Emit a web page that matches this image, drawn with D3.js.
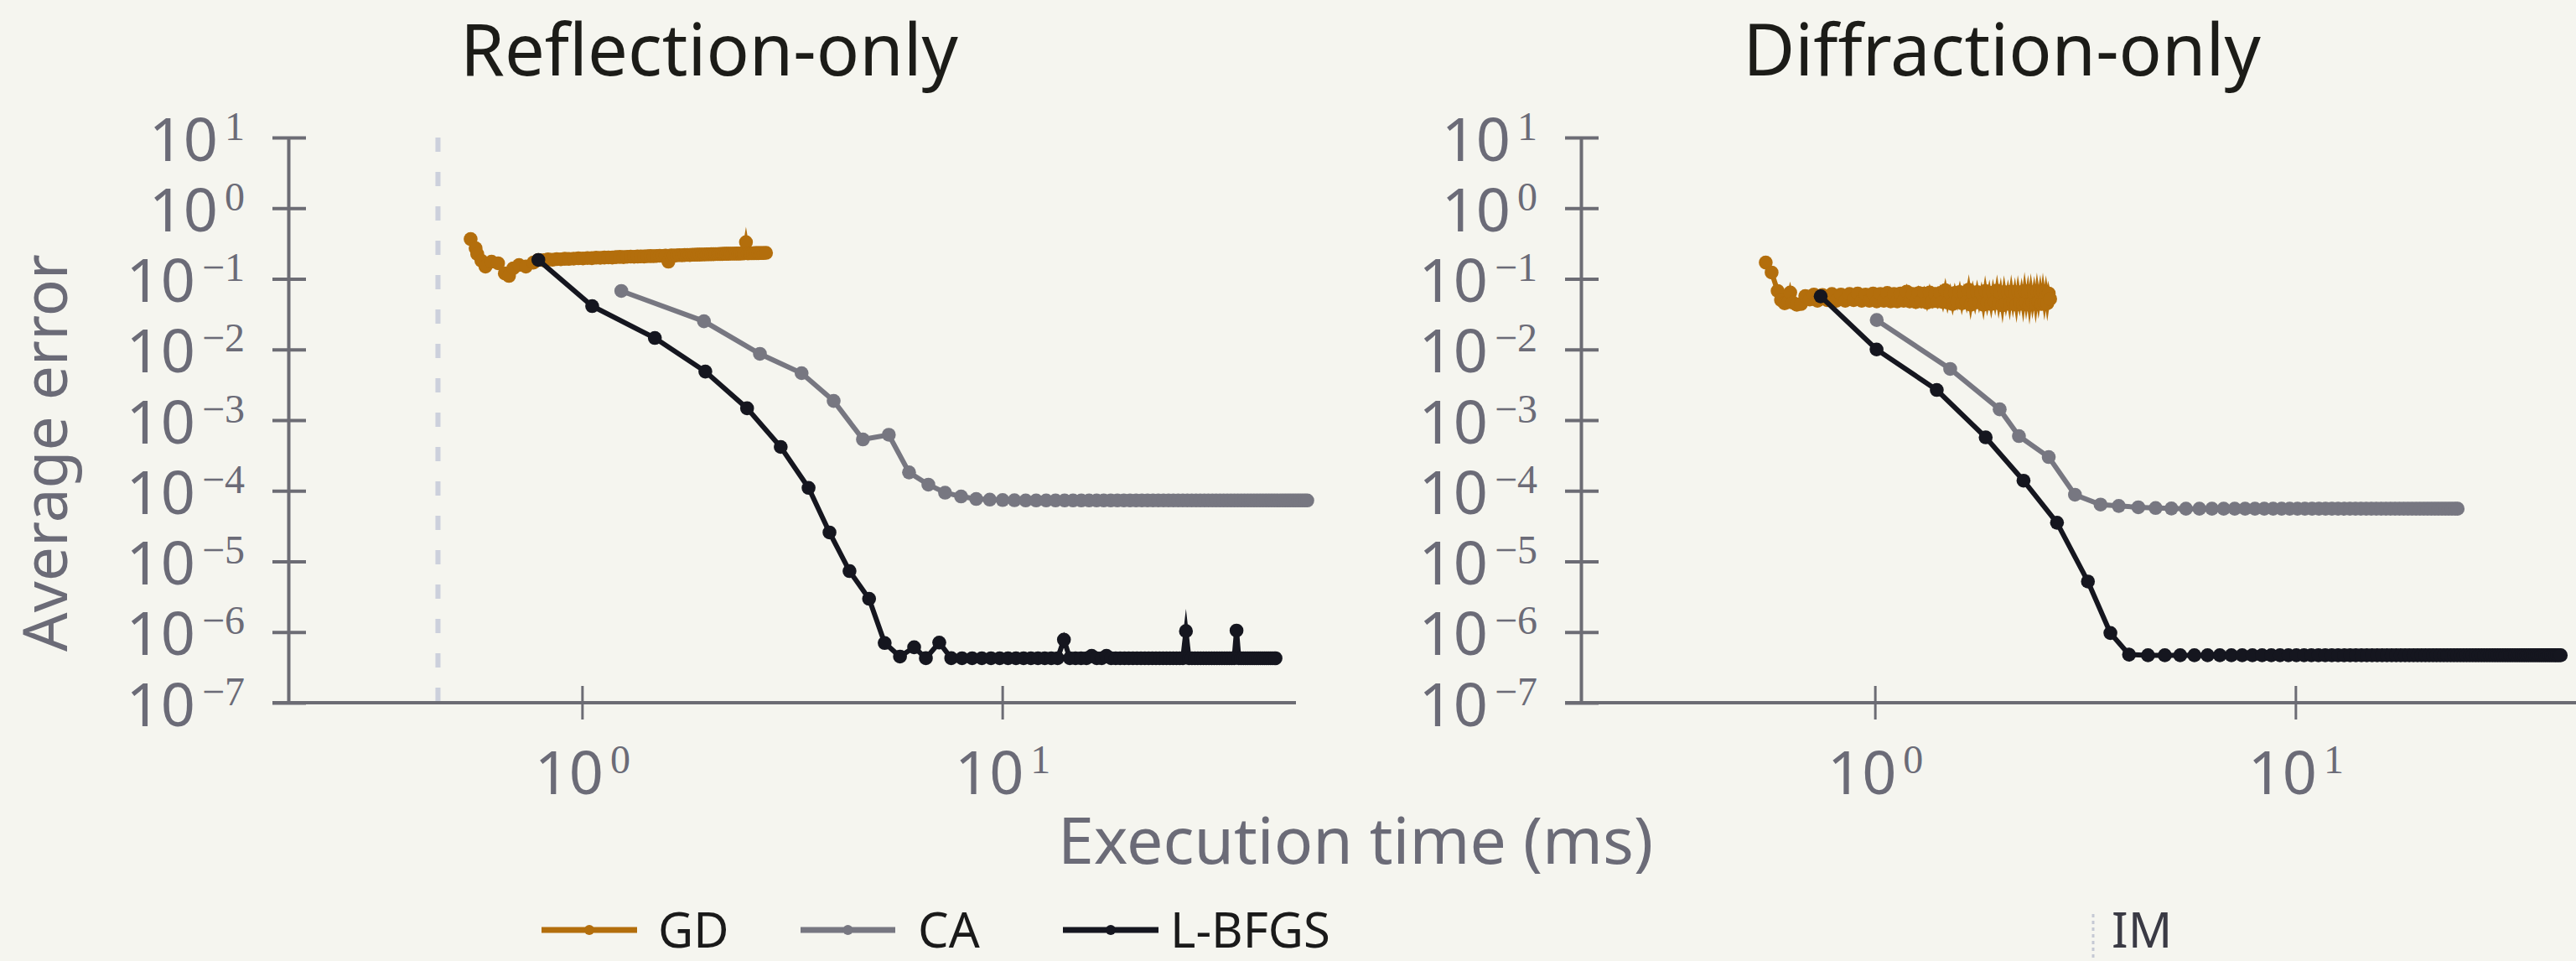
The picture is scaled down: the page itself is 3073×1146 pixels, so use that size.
<!DOCTYPE html>
<html><head><meta charset="utf-8">
<script src="https://cdn.jsdelivr.net/npm/d3@7"></script>
<style>
html,body{margin:0;padding:0;background:#f5f5ef;}
svg{display:block;}
</style></head><body>
<svg id="chart" width="3073" height="1146"></svg>
<script>
// ---------------- DATA ----------------
const panelTitles = ["Reflection-only", "Diffraction-only"];
const seriesNames = ["GD", "CA", "L-BFGS"];
const xTickValues = [1, 10];
const yTickValues = [1e1, 1e0, 1e-1, 1e-2, 1e-3, 1e-4, 1e-5, 1e-6, 1e-7];
const xAxisLabel = "Execution time (ms)";
const yAxisLabel = "Average error";
const imLabel = "IM";
const imTimes = [0.454, null]; // per panel (only visible in Reflection-only)

// Reflection-only : [time ms, average error]
const gdReflection = [
[0.543,0.366],[0.558,0.271],[0.563,0.224],[0.576,0.18],[0.589,0.149],[0.609,0.175],[0.631,0.166],[0.655,0.119],[0.670,0.110],[0.686,0.141],[0.708,0.157],[0.735,0.149],[0.766,0.170],[0.787,0.185],
[0.81,0.183],[0.83,0.188],[0.85,0.186],[0.87,0.190],[0.89,0.189],[0.91,0.192],[0.93,0.191],[0.955,0.193],[0.98,0.195],[1.005,0.194],[1.03,0.197],[1.055,0.196],[1.08,0.199],[1.105,0.198],[1.13,0.200],[1.155,0.201],[1.18,0.200],[1.205,0.203],[1.23,0.204],[1.255,0.203],[1.28,0.205],[1.305,0.206],[1.33,0.205],[1.355,0.207],[1.38,0.208],[1.405,0.207],[1.43,0.209],[1.455,0.210],[1.48,0.209],[1.505,0.211],[1.53,0.212],[1.555,0.211],[1.58,0.213],[1.605,0.175],[1.63,0.214],[1.655,0.213],[1.68,0.215],[1.705,0.216],[1.73,0.215],[1.755,0.217],[1.78,0.218],[1.805,0.217],[1.83,0.219],[1.855,0.219],[1.88,0.220],[1.905,0.220],[1.93,0.221],[1.955,0.221],[1.98,0.222],[2.005,0.222],[2.03,0.223],[2.055,0.223],[2.08,0.224],[2.105,0.224],[2.13,0.225],[2.155,0.225],[2.18,0.226],[2.205,0.226],[2.23,0.226],[2.255,0.227],[2.28,0.227],[2.305,0.227],[2.33,0.228],[2.355,0.228],[2.38,0.228],[2.405,0.229],[2.43,0.229],[2.455,0.33],[2.48,0.229],[2.505,0.230],[2.53,0.230],[2.555,0.230],[2.58,0.231],[2.605,0.231],[2.63,0.231],[2.655,0.232],[2.68,0.232],[2.705,0.232],[2.74,0.233]
];
const caReflection = [
[1.24,0.0673],[1.95,0.0251],[2.65,0.00867],[3.33,0.00462],[3.97,0.00187],[4.66,5.33e-4],[5.37,6.2e-4],[6.0,1.82e-4],[6.67,1.22e-4],[7.31,9.4e-5],[7.98,8.3e-5],[8.67,7.65e-5],
[9.34,7.5e-5],[10.02,7.4e-5],[10.69,7.35e-5],[11.37,7.3e-5],[12.04,7.3e-5],[12.72,7.3e-5],[13.39,7.3e-5],[14.07,7.3e-5],[14.74,7.3e-5],[15.42,7.3e-5],[16.09,7.3e-5],[16.77,7.3e-5],[17.44,7.3e-5],[18.12,7.3e-5],[18.79,7.3e-5],[19.47,7.3e-5],[20.14,7.3e-5],[20.82,7.3e-5],[21.49,7.3e-5],[22.17,7.3e-5],[22.84,7.3e-5],[23.52,7.3e-5],[24.19,7.3e-5],[24.87,7.3e-5],[25.54,7.3e-5],[26.22,7.3e-5],[26.89,7.3e-5],[27.57,7.3e-5],[28.24,7.3e-5],[28.92,7.3e-5],[29.59,7.3e-5],[30.27,7.3e-5],[30.94,7.3e-5],[31.62,7.3e-5],[32.29,7.3e-5],[32.97,7.3e-5],[33.64,7.3e-5],[34.32,7.3e-5],[34.99,7.3e-5],[35.67,7.3e-5],[36.34,7.3e-5],[37.02,7.3e-5],[37.69,7.3e-5],[38.37,7.3e-5],[39.04,7.3e-5],[39.72,7.3e-5],[40.39,7.3e-5],[41.07,7.3e-5],[41.74,7.3e-5],[42.42,7.3e-5],[43.09,7.3e-5],[43.77,7.3e-5],[44.44,7.3e-5],[45.12,7.3e-5],[45.79,7.3e-5],[46.47,7.3e-5],[47.14,7.3e-5],[47.82,7.3e-5],[48.49,7.3e-5],[49.17,7.3e-5],[49.84,7.3e-5],[50.52,7.3e-5],[51.19,7.3e-5],[51.87,7.3e-5],[52.54,7.3e-5],[53.2,7.3e-5]
];
const lbfgsReflection = [
[0.787,0.185],[1.057,0.0411],[1.49,0.01455],[1.965,0.00487],[2.47,0.00147],[2.97,4.17e-4],[3.46,1.1e-4],[3.88,2.57e-5],[4.33,7.3e-6],[4.82,2.96e-6],[5.25,7.0e-7],[5.71,4.5e-7],[6.17,6.1e-7],[6.58,4.27e-7],[7.08,7.1e-7],[7.56,4.27e-7],
[8.02,4.26e-7],[8.48,4.26e-7],[8.94,4.26e-7],[9.40,4.26e-7],[9.86,4.26e-7],[10.32,4.26e-7],[10.78,4.26e-7],[11.24,4.26e-7],[11.70,4.26e-7],[12.16,4.26e-7],[12.62,4.26e-7],[13.08,4.26e-7],[13.54,4.26e-7],[14.02,7.8e-7],[14.48,4.26e-7],[14.94,4.26e-7],[15.40,4.26e-7],[15.86,4.26e-7],[16.32,4.6e-7],[16.78,4.26e-7],[17.24,4.26e-7],[17.70,4.6e-7],[18.16,4.26e-7],[18.62,4.26e-7],[19.08,4.26e-7],[19.54,4.26e-7],[20.0,4.26e-7],[20.46,4.26e-7],[20.92,4.26e-7],[21.38,4.26e-7],[21.84,4.26e-7],[22.30,4.26e-7],[22.76,4.26e-7],[23.22,4.26e-7],[23.68,4.26e-7],[24.14,4.26e-7],[24.60,4.26e-7],[25.06,4.26e-7],[25.52,4.26e-7],[25.98,4.26e-7],[26.44,4.26e-7],[26.90,4.26e-7],[27.36,1.03e-6],[27.82,4.26e-7],[28.28,4.26e-7],[28.74,4.26e-7],[29.20,4.26e-7],[29.66,4.26e-7],[30.12,4.26e-7],[30.58,4.26e-7],[31.04,4.26e-7],[31.50,4.26e-7],[31.96,4.26e-7],[32.42,4.26e-7],[32.88,4.26e-7],[33.34,4.26e-7],[33.80,4.26e-7],[34.26,4.26e-7],[34.72,4.26e-7],[35.18,4.26e-7],[35.64,4.26e-7],[36.10,1.05e-6],[36.56,4.26e-7],[37.02,4.26e-7],[37.48,4.26e-7],[37.94,4.26e-7],[38.40,4.26e-7],[38.86,4.26e-7],[39.32,4.26e-7],[39.78,4.26e-7],[40.24,4.26e-7],[40.70,4.26e-7],[41.16,4.26e-7],[41.62,4.26e-7],[42.08,4.26e-7],[42.54,4.26e-7],[43.00,4.26e-7],[43.46,4.26e-7],[43.92,4.26e-7],[44.38,4.26e-7],[44.7,4.26e-7]
];

// Diffraction-only : [time ms, average error]
const gdDiffraction = [
[0.55,0.170],[0.568,0.123],[0.587,0.0673],[0.598,0.050],[0.61,0.045],[0.622,0.047],[0.629,0.064],[0.638,0.046],[0.652,0.043],[0.667,0.044],[0.683,0.057],[0.70,0.051],[0.716,0.060],
[0.73,0.049],[0.75,0.059],[0.77,0.050],[0.79,0.061],[0.81,0.049],[0.83,0.060],[0.85,0.049],[0.87,0.061],[0.89,0.050],[0.91,0.062],[0.93,0.049],[0.95,0.060],[0.97,0.049],[0.99,0.062],[1.01,0.048],[1.03,0.061],[1.05,0.049],[1.07,0.063],[1.09,0.048],[1.11,0.061],[1.13,0.048],[1.15,0.062],[1.17,0.049],[1.19,0.066],[1.21,0.048],[1.23,0.061],[1.25,0.047],[1.27,0.063],[1.29,0.048],[1.31,0.062],[1.33,0.046],[1.35,0.064],[1.37,0.048],[1.39,0.061],[1.41,0.048],[1.43,0.063],[1.45,0.047],[1.47,0.069],[1.49,0.046],[1.51,0.062],[1.53,0.044],[1.55,0.063],[1.57,0.048],[1.59,0.065],[1.61,0.045],[1.63,0.062],[1.65,0.047],[1.67,0.070],[1.69,0.043],[1.71,0.063],[1.73,0.046],[1.75,0.065],[1.77,0.047],[1.79,0.062],[1.81,0.043],[1.83,0.067],[1.85,0.046],[1.87,0.063],[1.89,0.044],[1.91,0.064],[1.93,0.047],[1.95,0.068],[1.97,0.045],[1.99,0.063],[2.01,0.042],[2.03,0.065],[2.05,0.046],[2.07,0.062],[2.09,0.044],[2.11,0.066],[2.13,0.046],[2.15,0.063],[2.17,0.043],[2.19,0.065],[2.21,0.047],[2.23,0.063],[2.25,0.044],[2.27,0.067],[2.29,0.046],[2.31,0.064],[2.33,0.043],[2.35,0.065],[2.37,0.046],[2.39,0.063],[2.41,0.044],[2.43,0.066],[2.45,0.047],[2.47,0.064],[2.49,0.044],[2.51,0.065],[2.53,0.046],[2.55,0.063],[2.57,0.045],[2.59,0.062],[2.61,0.052]
];
const caDiffraction = [
[1.01,0.0261],[1.51,0.0053],[1.98,0.00142],[2.2,5.94e-4],[2.59,3.0e-4],[2.99,8.8e-5],[3.44,6.38e-5],[3.80,6.1e-5],[4.23,5.83e-5],
[4.65,5.7e-5],[5.07,5.62e-5],[5.49,5.57e-5],[5.91,5.57e-5],[6.33,5.57e-5],[6.75,5.57e-5],[7.17,5.57e-5],[7.59,5.57e-5],[8.01,5.57e-5],[8.43,5.57e-5],[8.85,5.57e-5],[9.27,5.57e-5],[9.69,5.57e-5],[10.11,5.57e-5],[10.53,5.57e-5],[10.95,5.57e-5],[11.37,5.57e-5],[11.79,5.57e-5],[12.21,5.57e-5],[12.63,5.57e-5],[13.05,5.57e-5],[13.47,5.57e-5],[13.89,5.57e-5],[14.31,5.57e-5],[14.73,5.57e-5],[15.15,5.57e-5],[15.57,5.57e-5],[15.99,5.57e-5],[16.41,5.57e-5],[16.83,5.57e-5],[17.25,5.57e-5],[17.67,5.57e-5],[18.09,5.57e-5],[18.51,5.57e-5],[18.93,5.57e-5],[19.35,5.57e-5],[19.77,5.57e-5],[20.19,5.57e-5],[20.61,5.57e-5],[21.03,5.57e-5],[21.45,5.57e-5],[21.87,5.57e-5],[22.29,5.57e-5],[22.71,5.57e-5],[23.13,5.57e-5],[23.55,5.57e-5],[23.97,5.57e-5],[24.3,5.57e-5]
];
const lbfgsDiffraction = [
[0.743,0.0566],[1.009,0.0100],[1.403,0.00267],[1.834,5.7e-4],[2.256,1.39e-4],[2.71,3.53e-5],[3.21,5.2e-6],[3.63,9.7e-7],[4.02,4.8e-7],
[4.46,4.7e-7],[4.89,4.7e-7],[5.32,4.7e-7],[5.75,4.7e-7],[6.18,4.7e-7],[6.61,4.7e-7],[7.04,4.7e-7],[7.47,4.7e-7],[7.90,4.7e-7],[8.33,4.7e-7],[8.76,4.7e-7],[9.19,4.7e-7],[9.62,4.7e-7],[10.05,4.7e-7],[10.48,4.7e-7],[10.91,4.7e-7],[11.34,4.7e-7],[11.77,4.7e-7],[12.20,4.7e-7],[12.63,4.7e-7],[13.06,4.7e-7],[13.49,4.7e-7],[13.92,4.7e-7],[14.35,4.7e-7],[14.78,4.7e-7],[15.21,4.7e-7],[15.64,4.7e-7],[16.07,4.7e-7],[16.50,4.7e-7],[16.93,4.7e-7],[17.36,4.7e-7],[17.79,4.7e-7],[18.22,4.7e-7],[18.65,4.7e-7],[19.08,4.7e-7],[19.51,4.7e-7],[19.94,4.7e-7],[20.37,4.7e-7],[20.80,4.7e-7],[21.23,4.7e-7],[21.66,4.7e-7],[22.09,4.7e-7],[22.52,4.7e-7],[22.95,4.7e-7],[23.38,4.7e-7],[23.81,4.7e-7],[24.24,4.7e-7],[24.67,4.7e-7],[25.10,4.7e-7],[25.53,4.7e-7],[25.96,4.7e-7],[26.39,4.7e-7],[26.82,4.7e-7],[27.25,4.7e-7],[27.68,4.7e-7],[28.11,4.7e-7],[28.54,4.7e-7],[28.97,4.7e-7],[29.40,4.7e-7],[29.83,4.7e-7],[30.26,4.7e-7],[30.69,4.7e-7],[31.12,4.7e-7],[31.55,4.7e-7],[31.98,4.7e-7],[32.41,4.7e-7],[32.84,4.7e-7],[33.27,4.7e-7],[33.70,4.7e-7],[34.13,4.7e-7],[34.56,4.7e-7],[34.99,4.7e-7],[35.42,4.7e-7],[35.85,4.7e-7],[36.28,4.7e-7],[36.71,4.7e-7],[37.14,4.7e-7],[37.57,4.7e-7],[38.00,4.7e-7],[38.43,4.7e-7],[38.86,4.7e-7],[39.29,4.7e-7],[39.72,4.7e-7],[40.15,4.7e-7],[40.58,4.7e-7],[41.01,4.7e-7],[41.44,4.7e-7],[41.87,4.7e-7],[42.30,4.7e-7],[42.73,4.7e-7]
];

// ---------------- STYLE / LAYOUT ----------------
const W = 3073, H = 1146;
const bg = "#f5f5ef";
const axisColor = "#6c6c74";
const labelColor = "#6b6b77";
const seriesColors = ["#b36e0c", "#777781", "#15161f"];
const sans = "'Noto Sans', 'Open Sans', sans-serif";
const serif = "'Liberation Serif', 'DejaVu Serif', serif";
const markerR = 8.3, lineW = 6;

const svg = d3.select("#chart");
svg.append("rect").attr("width", W).attr("height", H).attr("fill", bg);

const yScale = d3.scaleLog().domain([1e-7, 1e1]).range([838, 164]);
const xDomain = [0.2, 50];

const panels = [
  { title: panelTitles[0], xr: [344, 1546], titleX: 846, im: imTimes[0],
    series: [gdReflection, caReflection, lbfgsReflection] },
  { title: panelTitles[1], xr: [1886, 3089], titleX: 2388, im: imTimes[1],
    series: [gdDiffraction, caDiffraction, lbfgsDiffraction] }
];

function expText(e) { return e < 0 ? "\u2212" + Math.abs(e) : String(e); }

function powLabel(sel, d, anchor) {
  const e = Math.round(Math.log10(d));
  const t = sel.append("text")
    .attr("text-anchor", anchor)
    .attr("fill", labelColor)
    .attr("font-family", sans)
    .attr("font-size", 72);
  t.append("tspan").text("10");
  t.append("tspan").attr("font-family", serif).attr("font-size", 48)
    .attr("dx", 8).attr("dy", -25).text(expText(e));
  return t;
}

panels.forEach(p => {
  const x = d3.scaleLog().domain(xDomain).range(p.xr);
  const g = svg.append("g");

  // title
  g.append("text").attr("x", p.titleX).attr("y", 90)
    .attr("text-anchor", "middle").attr("font-family", sans)
    .attr("font-size", 85).attr("fill", "#1c1c18").text(p.title);

  // IM dashed line
  if (p.im != null) {
    g.append("line")
      .attr("x1", x(p.im)).attr("x2", x(p.im))
      .attr("y1", yScale(1e1)).attr("y2", yScale(1e-7))
      .attr("stroke", "#ccd0dc").attr("stroke-width", 6)
      .attr("stroke-dasharray", "17 24");
  }

  // y axis
  const ya = g.append("g").attr("transform", `translate(${p.xr[0]},0)`)
    .call(d3.axisLeft(yScale).tickValues(yTickValues).tickSize(19).tickSizeOuter(0).tickFormat(""));
  ya.select(".domain").attr("stroke", axisColor).attr("stroke-width", 4);
  ya.selectAll(".tick line").attr("x1", 21).attr("stroke", axisColor).attr("stroke-width", 4);
  ya.selectAll(".tick text").remove();
  ya.selectAll(".tick").each(function(d) {
    powLabel(d3.select(this), d, "end").attr("x", -52).attr("y", 27);
  });

  // x axis
  const xa = g.append("g").attr("transform", `translate(0,${yScale(1e-7)})`)
    .call(d3.axisBottom(x).tickValues(xTickValues).tickSize(20).tickSizeOuter(0).tickFormat(""));
  xa.select(".domain").attr("d", `M${p.xr[0] - 19},0H${p.xr[1]}`)
    .attr("stroke", axisColor).attr("stroke-width", 4);
  xa.selectAll(".tick line").attr("y1", -20).attr("stroke", axisColor).attr("stroke-width", 3);
  xa.selectAll(".tick text").remove();
  xa.selectAll(".tick").each(function(d) {
    powLabel(d3.select(this), d, "middle").attr("x", 0).attr("y", 109);
  });

  // series
  const line = d3.line().x(d => x(d[0])).y(d => yScale(d[1]));
  p.series.forEach((data, i) => {
    const c = seriesColors[i];
    g.append("path").datum(data).attr("d", line)
      .attr("fill", "none").attr("stroke", c).attr("stroke-width", lineW)
      .attr("stroke-linejoin", "miter").attr("stroke-miterlimit", i === 0 ? 8 : 10);
    g.append("g").selectAll("circle").data(data).join("circle")
      .attr("cx", d => x(d[0])).attr("cy", d => yScale(d[1]))
      .attr("r", markerR).attr("fill", c);
  });
});

// axis titles
svg.append("text").attr("x", 1617).attr("y", 1030).attr("text-anchor", "middle")
  .attr("font-family", sans).attr("font-size", 77).attr("fill", labelColor).text(xAxisLabel);
svg.append("text").attr("transform", "translate(80,540) rotate(-90)").attr("text-anchor", "middle")
  .attr("font-family", sans).attr("font-size", 73).attr("fill", labelColor).text(yAxisLabel);

// legend
const legendItems = [
  { x1: 646, x2: 760, tx: 785 },
  { x1: 955, x2: 1068, tx: 1095 },
  { x1: 1268, x2: 1382, tx: 1396 }
];
const ly = 1109;
seriesNames.forEach((name, i) => {
  const it = legendItems[i];
  svg.append("line").attr("x1", it.x1).attr("x2", it.x2).attr("y1", ly).attr("y2", ly)
    .attr("stroke", seriesColors[i]).attr("stroke-width", 7);
  svg.append("circle").attr("cx", (it.x1 + it.x2) / 2).attr("cy", ly).attr("r", 6)
    .attr("fill", seriesColors[i]);
  svg.append("text").attr("x", it.tx).attr("y", ly + 21).attr("font-family", sans)
    .attr("font-size", 58).attr("fill", "#1a1a1a").text(name);
});
svg.append("line").attr("x1", 2497).attr("x2", 2497).attr("y1", 1090).attr("y2", 1146)
  .attr("stroke", "#c5c9d4").attr("stroke-width", 3).attr("stroke-dasharray", "4 4");
svg.append("text").attr("x", 2519).attr("y", ly + 21).attr("font-family", sans)
  .attr("font-size", 58).attr("fill", "#3a3a44").text(imLabel);
</script>
</body></html>
